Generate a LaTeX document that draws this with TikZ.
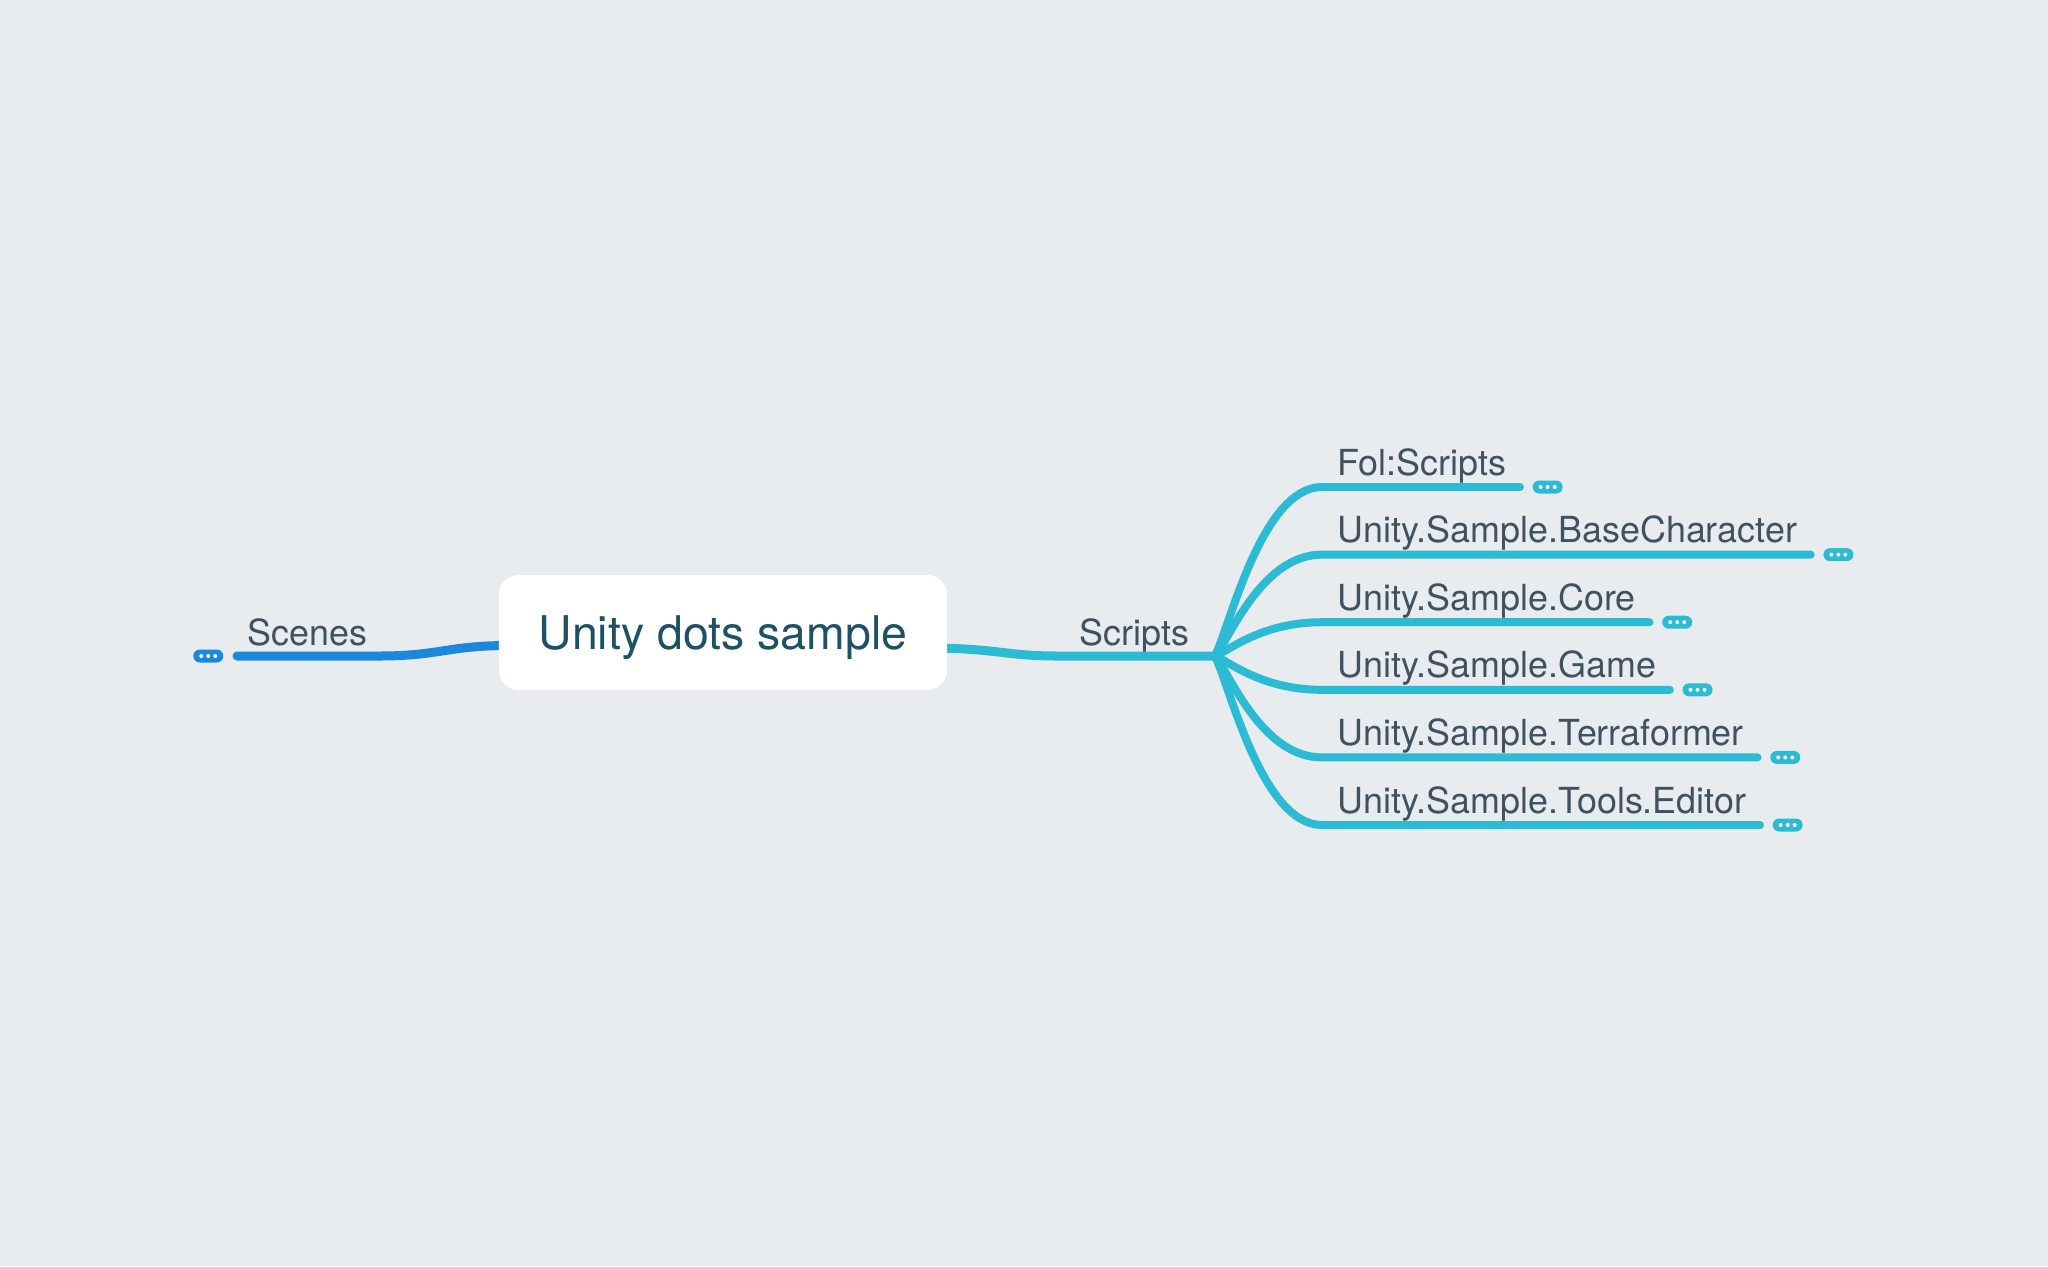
\documentclass[tikz,border=0pt]{standalone}
\usepackage{fontspec}
\setmainfont{TeX Gyre Heros}
\usetikzlibrary{positioning,backgrounds}
\definecolor{bgcol}{HTML}{E8ECEF}
\definecolor{cyanline}{HTML}{2BBBD4}
\definecolor{blueline}{HTML}{1A88DC}
\definecolor{labelcol}{HTML}{3F5262}
\definecolor{rootcol}{HTML}{1E5066}
\tikzstyle{branch}=[draw=cyanline, line width=0.08cm, line cap=round]
\tikzstyle{mainbranch}=[branch, line width=0.09cm]
\tikzstyle{leaf}=[inner sep=0pt, text=labelcol, font=\fontsize{10.2pt}{12pt}\selectfont]
\tikzstyle{rootbox}=[fill=white, rounded corners=0.2cm, minimum width=4.48cm, minimum height=1.15cm,
  text=rootcol, font=\fontsize{13.2pt}{15pt}\selectfont, text height=0.95em, text depth=0pt]
\tikzstyle{badge}=[fill=cyanline, rounded corners=0.065cm, minimum width=0.30cm, minimum height=0.13cm, inner sep=0pt,
  path picture={\foreach \k in {-1,0,1} \fill[white] ([xshift=\k*0.07cm]path picture bounding box.center) circle (0.02cm);}]

\begin{document}
\begin{tikzpicture}[x=0.01cm,y=-0.01cm]
	\useasboundingbox (0,0) rectangle (2048,1266);

	\node[rootbox] (root) at (723,632.5) {Unity dots sample};

	\begin{pgfonlayer}{background}
	\fill[bgcol] (0,0) rectangle (2048,1266);

	% left side
	\coordinate (sEnd) at (237,656);
	\node[leaf, anchor=base west] (scenes) at (247,645) {Scenes};
	\draw[mainbranch, draw=blueline] ([xshift=0.1cm,yshift=-0.13cm]root.west) .. controls +(-60,0) and +(60,0) .. ([xshift=1.42cm]sEnd) -- (sEnd);
	\node[badge, fill=blueline, left=0.13cm of sEnd] (sBadge) {};

	% right side
	\coordinate (hub) at (1215,656);
	\node[leaf, anchor=base west] (scripts) at (1079,645) {Scripts};
	\draw[mainbranch] ([xshift=-0.1cm,yshift=-0.155cm]root.east) .. controls +(60,1) and +(-50,0) .. ([xshift=-1.57cm]hub) -- (hub);

	\foreach \i/\txt in {1/Fol:Scripts, 2/Unity.Sample.BaseCharacter, 3/Unity.Sample.Core,
	                     4/Unity.Sample.Game, 5/Unity.Sample.Terraformer, 6/Unity.Sample.Tools.Editor} {
		\pgfmathsetmacro{\ly}{487+67.6*(\i-1)}
		\pgfmathsetmacro{\dy}{0.18*(\ly-656)}
		\coordinate (s\i) at (1322,\ly);
		\node[leaf, anchor=base west] (c\i) at (1337,\ly-12) {\txt};
		\coordinate (e\i) at ([xshift=0.13cm]c\i.base east |- s\i);
		\draw[branch] (hub) .. controls +(15,\dy) and +(-60,0) .. (s\i) -- (e\i);
		\node[badge, right=0.12cm of e\i] (b\i) {};
	}
	\end{pgfonlayer}
\end{tikzpicture}
\end{document}
